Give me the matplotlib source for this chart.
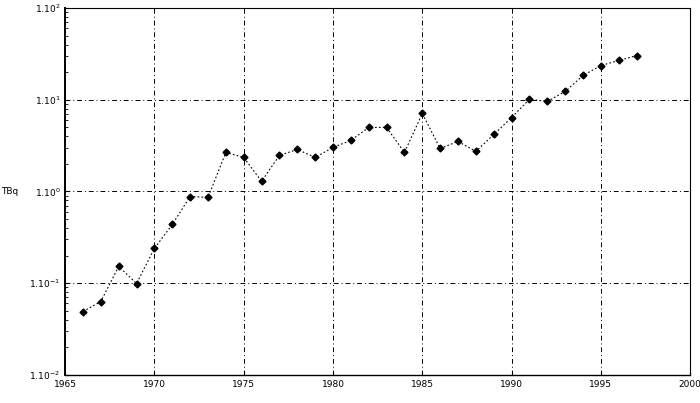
import matplotlib
matplotlib.use("Agg")
from matplotlib import pyplot as plt
from matplotlib.ticker import FixedLocator, LogLocator, NullFormatter

years = list(range(1966, 1998))
tbq = [0.049, 0.063, 0.152, 0.099, 0.239, 0.436, 0.88, 0.86, 2.66, 2.35,
       1.29, 2.47, 2.87, 2.35, 3.02, 3.6, 4.99, 4.99, 2.66, 7.08,
       2.94, 3.51, 2.73, 4.18, 6.4, 10.1, 9.6, 12.3, 18.4, 23.6,
       26.8, 30.3]

x_ticks = [1965, 1970, 1975, 1980, 1985, 1990, 1995, 2000]
y_ticks = [1e-2, 1e-1, 1e0, 1e1, 1e2]
y_labels = [r"$1.10^{-2}$", r"$1.10^{-1}$", r"$1.10^{0}$", r"$1.10^{1}$", r"$1.10^{2}$"]


def main():
    fig = plt.figure(figsize=(7, 4.03), dpi=100)
    ax = fig.add_axes([0.093, 0.07, 0.893, 0.91])

    ax.plot(years, tbq, c="black", linewidth=0.8, linestyle=(0, (1.5, 2)),
            marker="D", markersize=3.5, markerfacecolor="black", markeredgecolor="black")

    ax.set_yscale("log")
    ax.set_xlim(1965, 2000)
    ax.set_ylim(1e-2, 1e2)

    ax.xaxis.set_major_locator(FixedLocator(x_ticks))
    ax.set_xticklabels([str(t) for t in x_ticks])
    ax.set_yticks(y_ticks)
    ax.set_yticklabels(y_labels)
    ax.yaxis.set_minor_locator(LogLocator(base=10, subs=(2, 3, 4, 5, 6, 7, 8, 9)))
    ax.yaxis.set_minor_formatter(NullFormatter())

    ax.tick_params(axis="both", which="major", labelsize=6.5, length=3, direction="in")
    ax.tick_params(axis="y", which="minor", length=2, direction="in")

    ax.grid(True, which="major", color="black", linestyle=(0, (5, 3, 1, 3)), linewidth=0.7)

    for side in ["top", "right"]:
        ax.spines[side].set_linewidth(0.8)
    ax.spines["left"].set_linewidth(1.4)
    ax.spines["bottom"].set_linewidth(1.0)

    ax.text(-0.075, 0.5, "TBq", transform=ax.transAxes, fontsize=6.5,
            ha="right", va="center")

    fig.savefig("out.png", dpi=100)


if __name__ == "__main__":
    main()
